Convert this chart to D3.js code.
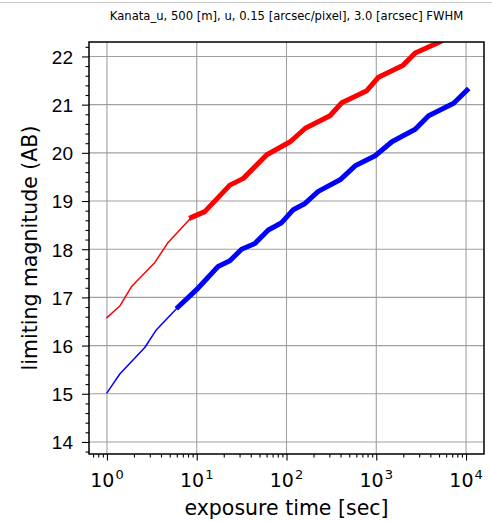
<!DOCTYPE html>
<html>
<head>
<meta charset="utf-8">
<script src="https://cdn.jsdelivr.net/npm/d3@7"></script>
<style>
  body { margin: 0; background: #fff; }
  svg { font-family: "DejaVu Sans", sans-serif; }
</style>
</head>
<body>
<div id="chart"></div>
<script>
// values (exposure time [sec], limiting magnitude)
var redThinT  = [1, 1.39, 1.87, 3.4, 4.8, 8.75];
var redThinM  = [16.58, 16.82, 17.22, 17.72, 18.14, 18.66];
var redThickT = [8.75, 12.3, 23.4, 33.1, 60.3, 110, 162, 305, 413, 785, 1059, 1995, 2716, 4943, 10000];
var redThickM = [18.66, 18.78, 19.33, 19.47, 19.96, 20.23, 20.51, 20.77, 21.04, 21.29, 21.57, 21.82, 22.07, 22.29, 22.6];
var blueThinT  = [1, 1.39, 2.64, 3.56, 6.2];
var blueThinM  = [15.02, 15.41, 15.96, 16.33, 16.80];
var blueThickT = [6.2, 9.95, 17.3, 23.4, 31.6, 44.5, 62.7, 88.3, 119, 161, 226, 395, 582, 973, 1493, 2716, 3828, 7278, 10233];
var blueThickM = [16.80, 17.16, 17.64, 17.76, 18.0, 18.12, 18.40, 18.55, 18.82, 18.95, 19.20, 19.44, 19.73, 19.94, 20.23, 20.49, 20.77, 21.03, 21.30];
var yTicks = [14, 15, 16, 17, 18, 19, 20, 21, 22];
var xTickExp = [0, 1, 2, 3, 4];
var title = "Kanata_u, 500 [m], u, 0.15 [arcsec/pixel], 3.0 [arcsec] FWHM";

var W = 492, H = 522;
var m = {left: 89, right: 8, top: 42, bottom: 68};
var pw = W - m.left - m.right, ph = H - m.top - m.bottom;

var svg = d3.select('#chart').append('svg')
    .attr('width', W).attr('height', H);

// thin border line at the very top of the figure
svg.append('line')
    .attr('x1', 0).attr('x2', W).attr('y1', 2.5).attr('y2', 2.5)
    .style('stroke', '#c8c8c8').style('stroke-width', 1);

var x = d3.scaleLog().domain([Math.pow(10, -0.2), Math.pow(10, 4.2)]).range([0, pw]);
var y = d3.scaleLinear().domain([13.75, 22.3]).range([ph, 0]);

var g = svg.append('g').attr('transform', 'translate(' + m.left + ',' + m.top + ')');

g.append('defs').append('clipPath').attr('id', 'clip')
  .append('rect').attr('width', pw).attr('height', ph);

// grid
var xMajor = xTickExp.map(function(e) { return Math.pow(10, e); });
g.append('g').selectAll('line').data(xMajor).enter().append('line')
    .attr('x1', function(d) { return x(d); }).attr('x2', function(d) { return x(d); })
    .attr('y1', 0).attr('y2', ph)
    .style('stroke', '#a0a0a0').style('stroke-width', 1.1);
g.append('g').selectAll('line').data(yTicks).enter().append('line')
    .attr('y1', function(d) { return y(d); }).attr('y2', function(d) { return y(d); })
    .attr('x1', 0).attr('x2', pw)
    .style('stroke', '#a0a0a0').style('stroke-width', 1.1);

// lines
var line = d3.line()
    .x(function(d) { return x(d[0]); })
    .y(function(d) { return y(d[1]); });
var lines = g.append('g').attr('clip-path', 'url(#clip)');
function draw(ts, ms, color, w) {
    lines.append('path')
        .datum(d3.zip(ts, ms))
        .attr('d', line)
        .style('fill', 'none')
        .style('stroke', color)
        .style('stroke-width', w)
        .style('stroke-linejoin', 'round')
        .style('stroke-linecap', 'square');
}
draw(redThinT, redThinM, '#ff0000', 1.5);
draw(redThickT, redThickM, '#ff0000', 5);
draw(blueThinT, blueThinM, '#0000ff', 1.5);
draw(blueThickT, blueThickM, '#0000ff', 5);

// axes
var xMinor = [];
for (var e = -1; e <= 4; e++) {
    for (var k = 2; k <= 9; k++) {
        var v = k * Math.pow(10, e);
        if (v >= x.domain()[0] && v <= x.domain()[1]) xMinor.push(v);
    }
}
var gx = g.append('g').attr('transform', 'translate(0,' + ph + ')');
gx.call(d3.axisBottom(x).tickValues(xMinor).tickSize(3.5).tickFormat(''));
gx.append('g').call(d3.axisBottom(x).tickValues(xMajor).tickSize(6.5).tickFormat(''));
gx.selectAll('.domain').remove();

var yMinor = d3.range(138, 224, 2).map(function(d) { return d / 10; })
    .filter(function(d) { return d % 1 !== 0; });
var gy = g.append('g');
gy.call(d3.axisLeft(y).tickValues(yMinor).tickSize(3.5).tickFormat(''));
gy.append('g').call(d3.axisLeft(y).tickValues(yTicks).tickSize(7).tickFormat(d3.format('d')))
  .call(function(s) {
      s.selectAll('text').style('font-size', '19px').style('fill', '#000')
          .attr('x', -16).attr('dy', '0.36em');
  });
gy.selectAll('.domain').remove();
g.selectAll('.tick line').style('stroke', '#000').style('stroke-width', 1.1);

// x tick labels with superscripts
var xl = g.append('g').selectAll('text').data(xTickExp).enter().append('text')
    .attr('x', function(d) { return x(Math.pow(10, d)); })
    .attr('y', ph + 33)
    .attr('text-anchor', 'middle')
    .style('font-size', '19px');
xl.append('tspan').text('10');
xl.append('tspan').attr('dy', -8).attr('dx', 1).style('font-size', '13px').text(function(d) { return d; });

// frame
g.append('rect').attr('width', pw).attr('height', ph)
    .style('fill', 'none').style('stroke', '#000').style('stroke-width', 1.5);

// labels
svg.append('text')
    .attr('x', m.left + pw / 2).attr('y', 20)
    .attr('text-anchor', 'middle')
    .style('font-size', '11.6px')
    .text(title);
svg.append('text')
    .attr('x', m.left + pw / 2).attr('y', 515)
    .attr('text-anchor', 'middle')
    .style('font-size', '20.5px')
    .text('exposure time [sec]');
svg.append('text')
    .attr('transform', 'translate(37,' + (m.top + ph / 2) + ') rotate(-90)')
    .attr('text-anchor', 'middle')
    .style('font-size', '20.5px')
    .text('limiting magnitude (AB)');
</script>
</body>
</html>
